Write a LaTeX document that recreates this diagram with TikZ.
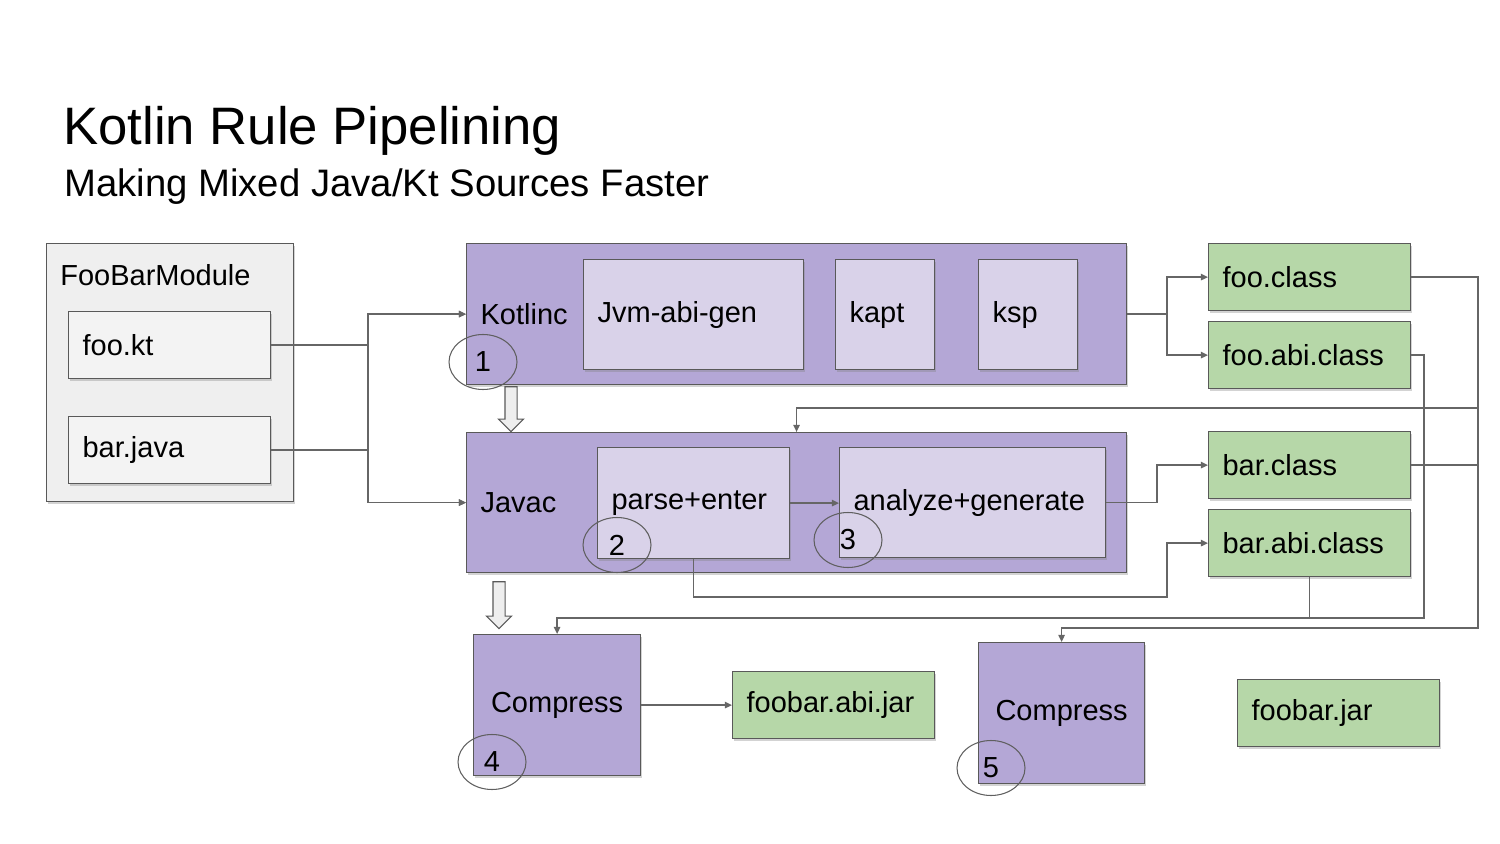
\documentclass[tikz,border=0pt]{standalone}
\usepackage{fontspec}
\setmainfont{Liberation Sans}
\usepackage{xcolor}
\usetikzlibrary{shapes.geometric, shapes.arrows, arrows.meta, calc, shadows}
\definecolor{stageBg}{HTML}{B4A7D6}
\definecolor{subBg}{HTML}{D9D2E9}
\definecolor{fileBg}{HTML}{B6D7A8}
\definecolor{moduleBg}{HTML}{EFEFEF}
\definecolor{srcBg}{HTML}{F3F3F3}
\definecolor{edgeGray}{HTML}{595959}
\definecolor{wireGray}{HTML}{666666}
\definecolor{ringGray}{HTML}{5F5F5F}
\definecolor{hollowBg}{HTML}{EEEEEE}

\begin{document}
\begin{tikzpicture}[
    x=0.02cm, y=-0.02cm,
    font=\fontsize{16.5}{19}\selectfont,
    box/.style={draw=edgeGray, line width=0.7pt, inner xsep=0.28cm, inner ysep=0pt, align=left, anchor=north west,
        drop shadow={opacity=0.35, shadow xshift=0.6pt, shadow yshift=-1.3pt}},
    moduleBox/.style={box, fill=moduleBg},
    srcBox/.style={box, fill=srcBg, text width=3.48cm, minimum height=1.34cm},
    fileBox/.style={box, fill=fileBg, text width=3.48cm, minimum height=1.34cm},
    stageBox/.style={box, fill=stageBg, text width=12.64cm, minimum height=2.82cm},
    subBox/.style={box, fill=subBg, minimum height=2.2cm},
    pressBox/.style={box, fill=stageBg, align=center, inner xsep=0pt, minimum width=3.34cm, minimum height=2.82cm},
    stepRing/.style={ellipse, draw=ringGray, line width=0.6pt, inner sep=0pt, minimum width=1.36cm, minimum height=1.1cm},
    blockArrow/.style={single arrow, draw=edgeGray, fill=hollowBg, line width=0.6pt, inner xsep=0pt, inner ysep=0.11cm,
        rotate=-90, anchor=tail, minimum height=0.9cm, single arrow head extend=0.13cm},
    flow/.style={draw=wireGray, line width=0.8pt},
    flowArrow/.style={flow, -{Triangle[length=4pt, width=3.6pt]}}
]
    \useasboundingbox (0,0) rectangle (1500,844);

    % Title
    \node[anchor=base west, inner sep=0pt, font=\fontsize{30}{36}\selectfont] (title) at (63,145) {Kotlin Rule Pipelining};
    \node[anchor=base west, inner sep=0pt, font=\fontsize{21.8}{26}\selectfont] (subtitle) at (64,197) {Making Mixed Java/Kt Sources Faster};

    % Sources
    \node[moduleBox, minimum width=4.94cm, minimum height=5.16cm,
        label={[anchor=base west, inner sep=0pt, xshift=0.28cm, yshift=-0.86cm]north west:FooBarModule}] (module) at (46,243) {};
    \node[srcBox] (fookt) at (68,311) {foo.kt};
    \node[srcBox] (barjava) at (68,416) {bar.java};

    % Compilers
    \node[stageBox] (kotlinc) at (466,243) {Kotlinc};
    \node[subBox, text width=3.84cm] (jvmabi) at (583,259) {Jvm-abi-gen};
    \node[subBox, text width=1.42cm] (kapt) at (835,259) {kapt};
    \node[subBox, text width=1.42cm] (ksp) at (978,259) {ksp};

    \node[stageBox, minimum height=2.8cm] (javac) at (466,432) {Javac};
    \node[subBox, text width=3.28cm, minimum height=2.22cm] (parse) at (597,447) {parse+enter};
    \node[subBox, text width=4.76cm] (analyze) at (839,447) {analyze+generate};

    % Outputs
    \node[fileBox] (fooclass) at (1208,243) {foo.class};
    \node[fileBox] (fooabi) at (1208,321) {foo.abi.class};
    \node[fileBox] (barclass) at (1208,431) {bar.class};
    \node[fileBox] (barabi) at (1208,509) {bar.abi.class};

    \node[pressBox] (compressabi) at (473,634) {Compress};
    \node[fileBox] (abijar) at (732,671) {foobar.abi.jar};
    \node[pressBox, minimum width=3.32cm] (compressjar) at (978,642) {Compress};
    \node[fileBox] (jar) at (1237,679) {foobar.jar};

    % Bus coordinates
    \coordinate (srcbus) at (368,0);
    \coordinate (kbus) at (1167,0);
    \coordinate (abus) at (1157,0);
    \coordinate (plow) at (1167,597);
    \coordinate (outer) at (1478,0);
    \coordinate (inner) at (1424,0);
    \coordinate (upper) at (0,408);
    \coordinate (lowabi) at (0,618);
    \coordinate (lowjar) at (0,628);

    % Arrows
    \draw[flowArrow] (fookt.east) -- (fookt.east -| srcbus) |- (kotlinc.west);
    \draw[flowArrow] (fookt.east) -- (fookt.east -| srcbus) |- (javac.west);
    \draw[flowArrow] (barjava.east) -- (barjava.east -| srcbus) |- (kotlinc.west);
    \draw[flowArrow] (barjava.east) -- (barjava.east -| srcbus) |- (javac.west);

    \draw[flowArrow] (kotlinc.east) -- (kotlinc.east -| kbus) |- (fooclass.west);
    \draw[flowArrow] (kotlinc.east) -- (kotlinc.east -| kbus) |- (fooabi.west);
    \draw[flowArrow] (parse.east) -- (parse.east -| analyze.west);
    \draw[flowArrow] (analyze.east) -- (analyze.east -| abus) |- (barclass.west);
    \draw[flowArrow] (parse.south) |- (plow) |- (barabi.west);

    \draw[flowArrow] (fooclass.east) -| (outer |- upper) -| (javac.north);
    \draw[flowArrow] (fooclass.east) -| (outer |- lowjar) -| (compressjar.north);
    \draw[flow] (barclass.east) -- (barclass.east -| outer);
    \draw[flowArrow] (fooabi.east) -| (inner |- lowabi) -| (compressabi.north);
    \draw[flow] (barabi.south) -- (barabi.south |- lowabi);
    \draw[flowArrow] (compressabi.east) -- (compressabi.east -| abijar.west);

    \node[blockArrow] (kotlinc2javac) at ($(kotlinc.south west)+(45,1)$) {};
    \node[blockArrow, minimum height=0.94cm] (javac2compress) at ($(javac.south west)+(33,8)$) {};

    % Step markers
    \node[stepRing] (step1) at (483,362) {1};
    \node[stepRing] (step2) at (617,545) {2};
    \node[stepRing] (step3) at (848,540) {3};
    \node[stepRing] (step4) at (492,762) {4};
    \node[stepRing] (step5) at (991,768) {5};

\end{tikzpicture}
\end{document}
